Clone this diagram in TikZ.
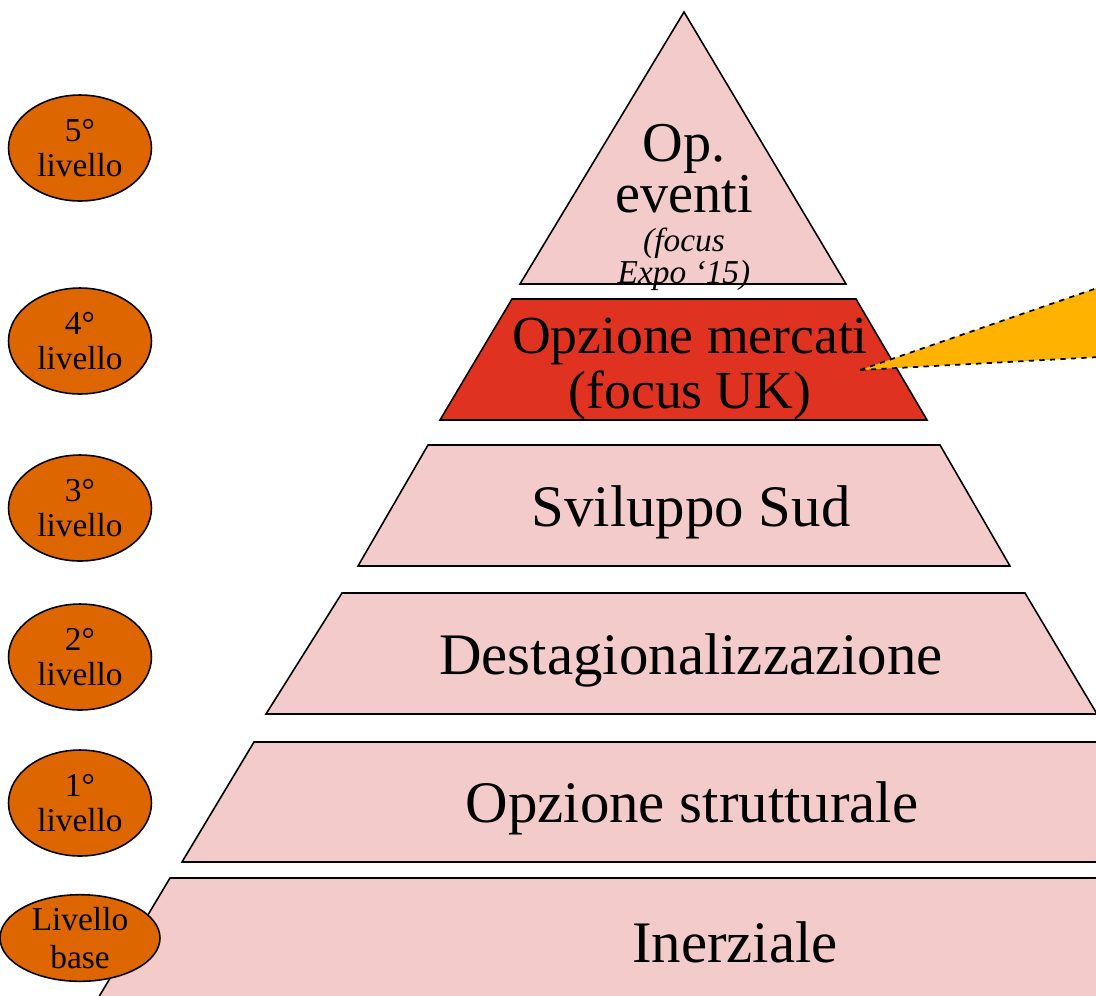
\documentclass[tikz,border=0pt]{standalone}
\usepackage{fontspec}
\setmainfont{Liberation Serif}
\usetikzlibrary{shapes.geometric}
\definecolor{layerpink}{HTML}{F3CBCB}
\definecolor{layerred}{HTML}{E03221}
\definecolor{lvlorange}{HTML}{DD6600}
\definecolor{calloutyellow}{HTML}{FFB300}

\begin{document}
\begin{tikzpicture}[x=0.02cm,y=-0.02cm,
    layer/.style = {draw, fill=layerpink, line width=0.9pt},
    bigtext/.style = {font=\fontsize{33.5}{31}\selectfont, align=center, inner sep=0pt},
    smalltext/.style = {font=\fontsize{19}{16.5}\selectfont\itshape, align=center, inner sep=0pt},
    level/.style = {shape=ellipse, draw, fill=lvlorange, line width=0.9pt,
        minimum width=2.86cm, minimum height=2.12cm, inner sep=0pt,
        align=center, font=\fontsize{19}{19.5}\selectfont}]
    \useasboundingbox (0,0) rectangle (1096,995);
    \clip (0,0) rectangle (1096,995);

    % pyramid
    \draw[layer] (684,12) -- (846,284) -- (520,284) -- cycle;
    \draw[layer, fill=layerred] (512,299) -- (856,299) -- (927,420) -- (440,420) -- cycle;
    \draw[layer] (428,445) -- (940,445) -- (1010,566) -- (358,566) -- cycle;
    \draw[layer] (342,593) -- (1025,593) -- (1097,714) -- (266,714) -- cycle;
    \draw[layer] (254,742) -- (1110,742) -- (1180,862) -- (182,862) -- cycle;
    \draw[layer] (170,878) -- (1130,878) -- (1200,1000) -- (97,1000) -- cycle;

    \node[bigtext, font=\fontsize{32}{27}\selectfont] (eventi) at (684,169) {Op.\\eventi};
    \node[smalltext] (expo) at (684,259) {(focus\\Expo ‘15)};
    \node[bigtext, font=\fontsize{30.5}{31}\selectfont] (mercati) at (690,369) {Opzione mercati\\(focus UK)};
    \node[bigtext] (sud) at (691,512) {Sviluppo Sud};
    \node[bigtext] (destag) at (691,660) {Destagionalizzazione};
    \node[bigtext] (strutt) at (692,808) {Opzione strutturale};
    \node[bigtext] (inerz) at (735,942) {Inerziale};

    % callout
    \coordinate (tip) at (860,370);
    \draw[dashed, fill=calloutyellow, line width=1pt] (tip) -- (1100,287) -- (1100,357) -- cycle;

    % levels
    \node[level] (l5) at (80,148) {5°\\livello};
    \node[level] (l4) at (80,341) {4°\\livello};
    \node[level] (l3) at (80,508) {3°\\livello};
    \node[level] (l2) at (80,657) {2°\\livello};
    \node[level] (l1) at (80,803) {1°\\livello};
    \node[level, minimum width=3.2cm, minimum height=1.54cm,
        font=\fontsize{19}{21.5}\selectfont] (lb) at (80,938) {Livello\\base};
\end{tikzpicture}
\end{document}
